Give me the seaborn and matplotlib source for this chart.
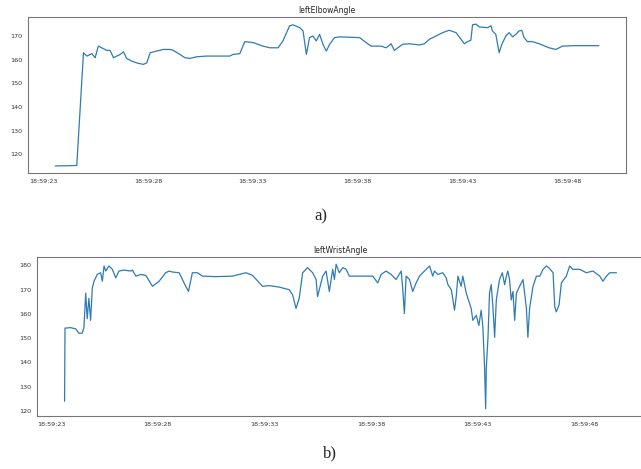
import numpy as np
import pandas as pd
import matplotlib
matplotlib.use("Agg")
import matplotlib.pyplot as plt
import matplotlib.dates as mdates
import seaborn as sns

# Session timing: seconds after 18:59:00
base_time = "2021-01-01 18:59:00"

elbow_seconds = [
    23.57, 24.30, 24.60, 24.92, 25.08, 25.32, 25.48, 25.56, 25.63, 25.79, 26.03,
    26.19, 26.35, 26.51, 26.67, 26.83, 26.98, 27.22, 27.46, 27.78, 27.94, 28.10,
    28.41, 28.73, 29.05, 29.21, 29.52, 29.76, 30.00, 30.32, 30.79, 31.27, 31.90,
    32.06, 32.38, 32.62, 33.02, 33.49, 33.81, 34.21, 34.44, 34.76, 34.92, 35.24,
    35.40, 35.56, 35.71, 35.87, 36.03, 36.19, 36.35, 36.51, 36.67, 36.90, 37.14,
    38.10, 38.41, 38.65, 39.13, 39.37, 39.60, 39.76, 39.92, 40.16, 40.48, 40.95,
    41.19, 41.43, 41.75, 42.06, 42.38, 42.70, 42.94, 43.10, 43.25, 43.41, 43.49,
    43.65, 43.81, 44.21, 44.37, 44.44, 44.60, 44.76, 44.89, 45.08, 45.24, 45.40,
    45.56, 45.71, 45.84, 45.95, 46.11, 46.35, 46.67, 47.14, 47.46, 47.62, 47.78,
    48.25, 49.52,
]
elbow_angle = [
    115.1, 115.2, 115.3, 162.9, 161.5, 162.5, 160.8, 163.6, 165.7, 165.0, 163.9,
    163.9, 160.8, 161.5, 162.2, 163.3, 160.5, 159.4, 158.6, 158.0, 158.6, 162.9,
    163.6, 164.3, 164.3, 163.9, 162.2, 160.8, 160.5, 161.2, 161.5, 161.5, 161.5,
    162.2, 162.5, 167.6, 167.2, 165.7, 165.0, 165.0, 167.9, 174.3, 174.7, 173.5,
    172.1, 162.2, 169.3, 170.0, 167.9, 170.7, 166.5, 163.6, 166.5, 169.3, 169.6,
    169.3, 167.2, 165.7, 165.7, 165.0, 166.7, 163.9, 165.0, 166.5, 166.7, 166.2,
    166.7, 168.6, 170.0, 171.4, 172.4, 171.4, 168.6, 166.7, 167.6, 168.2, 174.7,
    175.0, 173.8, 173.5, 174.3, 172.1, 170.7, 162.9, 166.5, 170.0, 171.4, 169.6,
    170.7, 172.1, 172.4, 169.3, 167.6, 167.6, 166.7, 165.0, 164.3, 165.0, 165.7,
    165.9, 165.9,
]

wrist_seconds = [
    23.64, 23.66, 23.92, 24.16, 24.31, 24.47, 24.55, 24.63, 24.70, 24.78, 24.86,
    24.94, 25.02, 25.17, 25.33, 25.41, 25.49, 25.57, 25.72, 25.88, 26.04, 26.19,
    26.43, 26.74, 26.82, 26.98, 27.21, 27.45, 27.76, 28.07, 28.38, 28.54, 28.69,
    29.01, 29.32, 29.45, 29.63, 29.87, 30.10, 30.73, 31.51, 32.14, 32.45, 32.92,
    33.23, 33.70, 34.17, 34.33, 34.49, 34.64, 34.80, 35.03, 35.27, 35.43, 35.50,
    35.58, 35.74, 35.90, 36.05, 36.21, 36.29, 36.37, 36.52, 36.68, 36.84, 36.99,
    37.46, 38.09, 38.32, 38.48, 38.71, 38.95, 39.18, 39.42, 39.49, 39.57, 39.65,
    39.81, 39.96, 40.12, 40.28, 40.43, 40.59, 40.75, 40.90, 40.98, 41.14, 41.37,
    41.53, 41.61, 41.77, 41.92, 42.00, 42.08, 42.23, 42.31, 42.47, 42.70, 42.78,
    42.94, 43.06, 43.17, 43.25, 43.33, 43.38, 43.41, 43.49, 43.56, 43.64, 43.72,
    43.80, 43.88, 44.03, 44.16, 44.27, 44.35, 44.42, 44.50, 44.58, 44.66, 44.74,
    44.82, 44.97, 45.13, 45.29, 45.36, 45.44, 45.60, 45.76, 45.92, 46.07, 46.23,
    46.38, 46.54, 46.62, 46.69, 46.82, 46.93, 47.16, 47.32, 47.47, 47.79, 48.10,
    48.41, 48.73, 48.88, 49.04, 49.20, 49.51,
]
wrist_angle = [
    124.0, 154.1, 154.3, 153.8, 152.0, 152.0, 154.6, 168.5, 158.0, 166.4, 157.3,
    170.6, 173.4, 176.2, 176.9, 173.4, 179.7, 177.6, 179.7, 178.3, 174.8, 177.6,
    178.0, 177.6, 178.0, 175.5, 176.2, 175.8, 171.3, 173.4, 176.9, 177.6, 177.2,
    176.9, 171.3, 169.2, 176.9, 176.9, 175.5, 175.3, 175.5, 176.9, 175.8, 171.3,
    171.6, 171.0, 169.9, 167.8, 162.2, 166.4, 176.9, 179.0, 176.9, 174.1, 167.1,
    169.9, 175.5, 177.6, 169.2, 178.3, 174.1, 180.4, 176.9, 179.0, 178.3, 175.5,
    175.5, 175.5, 172.7, 176.2, 177.6, 176.2, 174.1, 177.6, 170.6, 160.1, 175.5,
    174.1, 169.2, 172.7, 175.5, 176.9, 178.3, 179.7, 175.5, 177.6, 176.2, 176.9,
    174.8, 172.0, 169.9, 161.5, 167.1, 175.5, 171.3, 175.5, 168.5, 162.2, 157.3,
    159.4, 155.2, 161.5, 154.5, 137.7, 120.9, 137.7, 150.3, 168.5, 172.0, 162.9,
    150.3, 165.7, 174.1, 176.9, 172.0, 175.5, 177.6, 174.1, 165.7, 169.2, 157.3,
    168.5, 171.3, 174.1, 162.2, 150.3, 162.2, 171.3, 175.5, 175.5, 178.3, 179.7,
    178.6, 176.9, 162.9, 160.8, 163.6, 172.7, 175.5, 179.7, 178.3, 178.3, 176.9,
    177.6, 175.5, 173.4, 175.5, 176.9, 176.9,
]

time_tick_labels = ["18:59:23", "18:59:28", "18:59:33", "18:59:38", "18:59:43", "18:59:48"]
elbow_yticks = [120, 130, 140, 150, 160, 170]
wrist_yticks = [120, 130, 140, 150, 160, 170, 180]

titles = ["leftElbowAngle", "leftWristAngle"]
captions = ["a)", "b)"]


def to_times(secs):
    return pd.Timestamp(base_time) + pd.to_timedelta(np.asarray(secs), unit="s")


elbow_df = pd.DataFrame({"time": to_times(elbow_seconds), "angle": elbow_angle})
wrist_df = pd.DataFrame({"time": to_times(wrist_seconds), "angle": wrist_angle})
tick_times = pd.to_datetime([base_time[:11] + t for t in time_tick_labels])

sns.set_style("white")
plt.rcParams["font.family"] = ["DejaVu Sans"]

fig = plt.figure(figsize=(6.41, 4.69), dpi=100)
ax_a = fig.add_axes([0.0437, 0.6311, 0.933, 0.3326])
ax_b = fig.add_axes([0.0577, 0.1130, 0.947, 0.3390])

line_color = "#2f7bb5"
for ax, df, yt, title in [(ax_a, elbow_df, elbow_yticks, titles[0]),
                          (ax_b, wrist_df, wrist_yticks, titles[1])]:
    sns.lineplot(data=df, x="time", y="angle", ax=ax, estimator=None,
                 sort=False, color=line_color, linewidth=0.9)
    ax.set_xlabel("")
    ax.set_ylabel("")
    ax.set_xticks(tick_times)
    ax.xaxis.set_major_formatter(mdates.DateFormatter("%H:%M:%S"))
    ax.set_yticks(yt)
    ax.tick_params(axis="both", labelsize=4.6, length=2, width=0.6,
                   color="#555555", labelcolor="#333333", pad=2)
    for sp in ax.spines.values():
        sp.set_visible(True)
        sp.set_color("#777777")
        sp.set_linewidth(0.8)
    ax.set_title(title, fontsize=5.5, color="#222222", pad=3)

fig.text(0.501, 1 - 216 / 469, captions[0], ha="center", va="center",
         fontsize=12, family="Liberation Serif")
fig.text(0.515, 1 - 453 / 469, captions[1], ha="center", va="center",
         fontsize=12, family="Liberation Serif")

fig.savefig("out.png", dpi=100, facecolor="white")
